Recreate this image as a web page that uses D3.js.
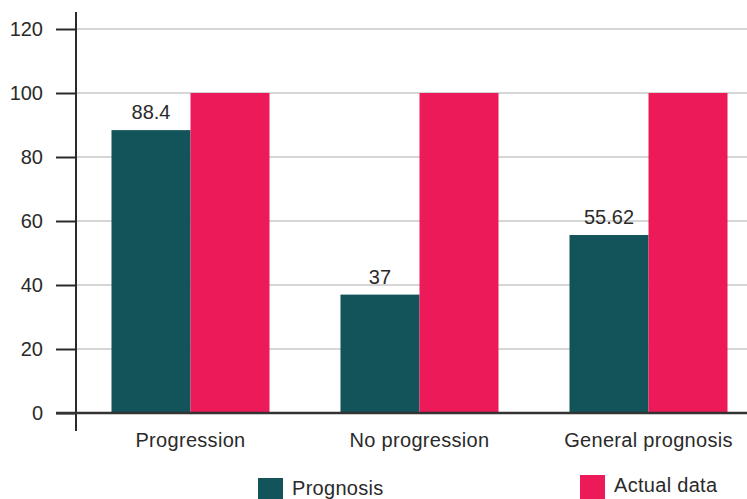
<!DOCTYPE html>
<html>
<head>
<meta charset="utf-8">
<script src="https://cdn.jsdelivr.net/npm/d3@7/dist/d3.min.js"></script>
<style>
  html, body { margin: 0; padding: 0; background: #fff; }
  svg { display: block; font-family: "Liberation Sans", Arial, Helvetica, sans-serif; }
</style>
</head>
<body>
<svg id="chart" width="747" height="499"></svg>
<script>
// Chart data
const categories = ["Progression", "No progression", "General prognosis"];
const seriesNames = ["Prognosis", "Actual data"];
const prognosis = [88.4, 37, 55.62];
const actualData = [100, 100, 100];
const yTicks = [0, 20, 40, 60, 80, 100, 120];

const colors = { "Prognosis": "#13545a", "Actual data": "#ec1a59" };
const textColor = "#2a2a2a";

const rows = categories.map((c, i) => ({
  category: c,
  values: [
    { series: "Prognosis", value: prognosis[i], label: String(prognosis[i]) },
    { series: "Actual data", value: actualData[i], label: null }
  ]
}));

const svg = d3.select("#chart");
const axisX = 76, baseY = 413, topY = 29, rightX = 747;

const y = d3.scaleLinear().domain([0, 120]).range([baseY, topY]);
const x0 = d3.scaleBand().domain(categories).range([axisX, 763])
  .paddingInner(0.31).paddingOuter(0.155);
const x1 = d3.scaleBand().domain(seriesNames).range([0, x0.bandwidth()]).padding(0);

// Gridlines
svg.append("g").selectAll("line").data(yTicks.filter(t => t > 0)).join("line")
  .attr("x1", axisX).attr("x2", rightX)
  .attr("y1", d => y(d)).attr("y2", d => y(d))
  .attr("stroke", "#d6d6d6").attr("stroke-width", 2);

// Bars
const groups = svg.append("g").selectAll("g").data(rows).join("g")
  .attr("transform", d => `translate(${x0(d.category)},0)`);

groups.selectAll("rect").data(d => d.values).join("rect")
  .attr("x", d => x1(d.series))
  .attr("width", x1.bandwidth())
  .attr("y", d => y(d.value))
  .attr("height", d => y(0) - y(d.value))
  .attr("fill", d => colors[d.series]);

// Value labels
groups.selectAll("text").data(d => d.values.filter(v => v.label)).join("text")
  .attr("x", d => x1(d.series) + x1.bandwidth() / 2)
  .attr("y", d => y(d.value) - 11)
  .attr("text-anchor", "middle")
  .attr("font-size", 20)
  .attr("fill", textColor)
  .text(d => d.label);

// Y axis
const yAxis = svg.append("g")
  .attr("transform", `translate(${axisX},0)`)
  .call(d3.axisLeft(y).tickValues(yTicks).tickSize(20).tickPadding(13).tickFormat(d3.format("d")));
yAxis.select(".domain").remove();
yAxis.selectAll(".tick line").attr("stroke", "#2a2a2a").attr("stroke-width", 2);
yAxis.selectAll(".tick text")
  .attr("font-size", 20)
  .attr("font-family", "Liberation Sans, Arial, sans-serif")
  .attr("fill", textColor);

svg.append("line")
  .attr("x1", axisX).attr("x2", axisX)
  .attr("y1", 12).attr("y2", 431)
  .attr("stroke", "#2a2a2a").attr("stroke-width", 2);

// X axis baseline and category labels
svg.append("line")
  .attr("x1", 56).attr("x2", rightX)
  .attr("y1", baseY).attr("y2", baseY)
  .attr("stroke", "#333").attr("stroke-width", 2.5);

svg.append("g").selectAll("text").data(categories).join("text")
  .attr("x", d => x0(d) + x0.bandwidth() / 2)
  .attr("y", 447)
  .attr("text-anchor", "middle")
  .attr("font-size", 20)
  .attr("letter-spacing", 0.3)
  .attr("fill", textColor)
  .text(d => d);

// Legend
const legendItems = [
  { name: "Prognosis", x: 258, y: 478, textY: 495 },
  { name: "Actual data", x: 580, y: 475, textY: 492 }
];
const legend = svg.append("g").selectAll("g").data(legendItems).join("g");
legend.append("rect")
  .attr("x", d => d.x).attr("y", d => d.y)
  .attr("width", 25).attr("height", 25)
  .attr("fill", d => colors[d.name]);
legend.append("text")
  .attr("x", d => d.x + 34).attr("y", d => d.textY)
  .attr("font-size", 20)
  .attr("letter-spacing", 0.3)
  .attr("fill", textColor)
  .text(d => d.name);
</script>
</body>
</html>
